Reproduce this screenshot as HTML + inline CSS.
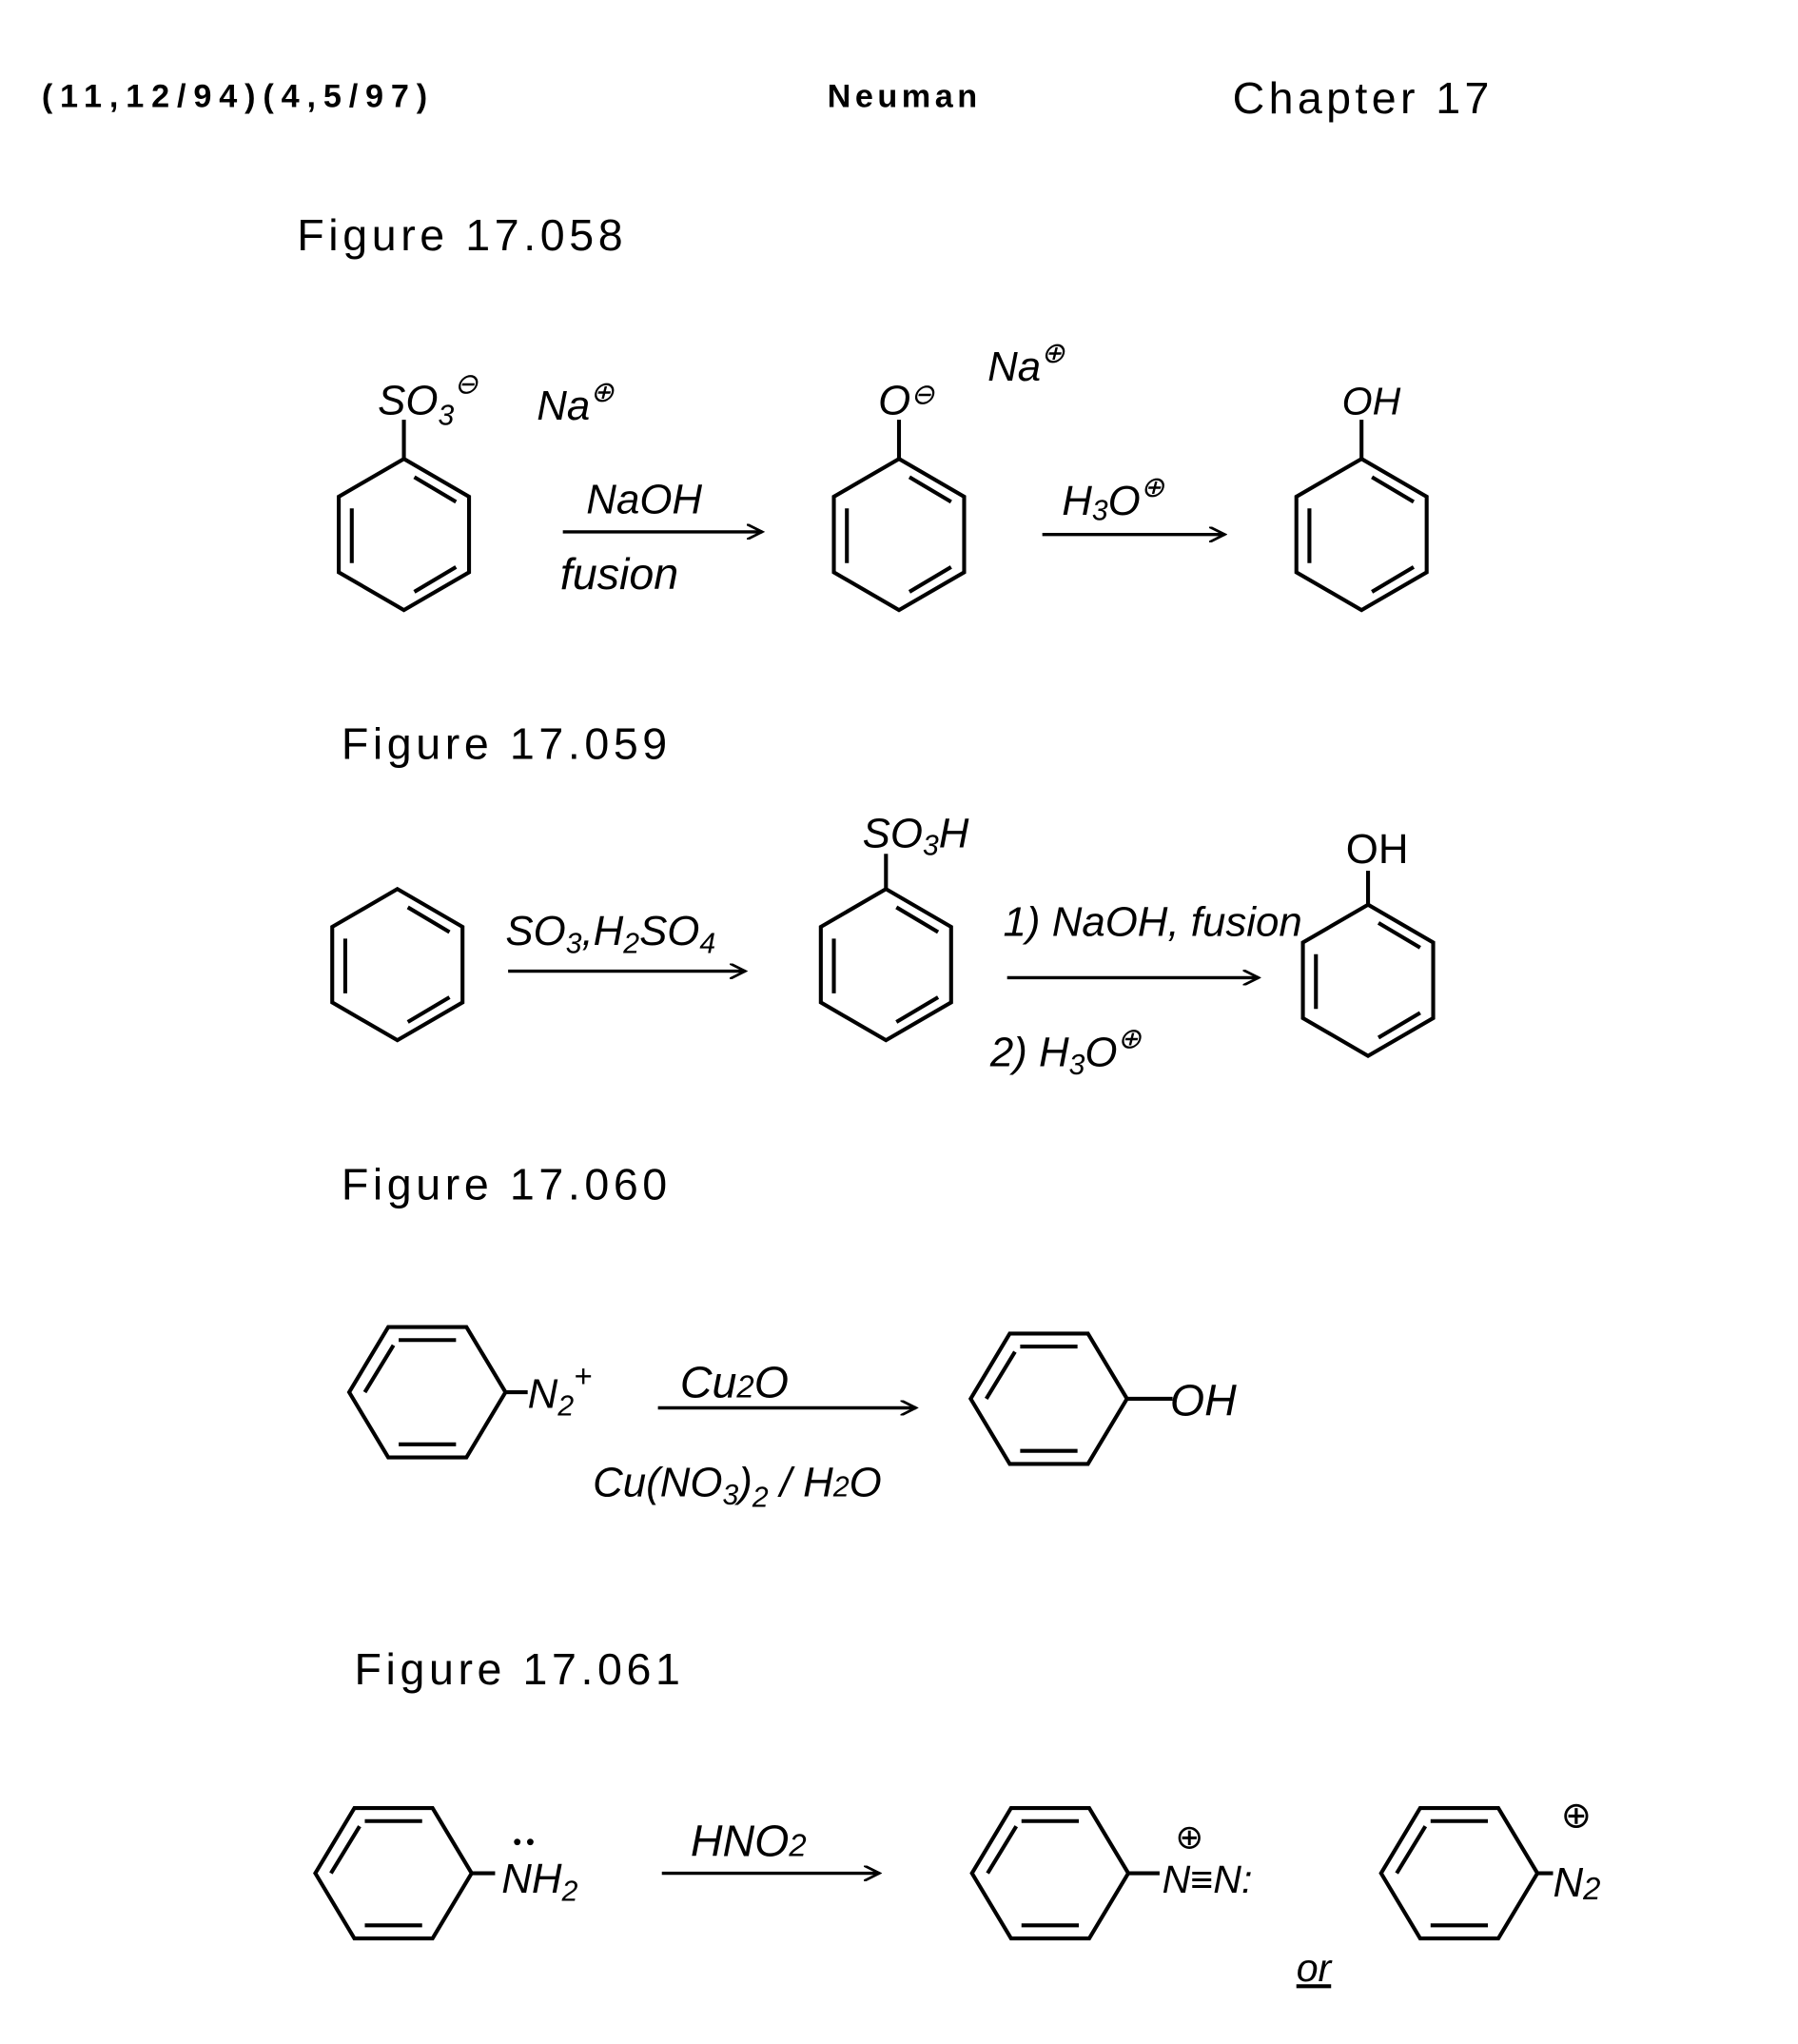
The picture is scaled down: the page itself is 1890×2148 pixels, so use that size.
<!DOCTYPE html>
<html><head><meta charset="utf-8"><style>
html,body{margin:0;padding:0;background:#fff;}
svg{display:block;}
text{font-family:"Liberation Sans",sans-serif;fill:#000;}
.h{font-style:italic;font-family:"Liberation Sans",sans-serif;}
</style></head><body>
<svg width="1890" height="2148" viewBox="0 0 1380 1568" preserveAspectRatio="none" xmlns="http://www.w3.org/2000/svg">
<defs>
<g id="bv" fill="none" stroke="#000" stroke-width="3">
<polygon points="0,-58 50,-29 50,29 0,58 -50,29 -50,-29"/>
<line x1="-40" y1="-20" x2="-40" y2="22"/>
<line x1="8" y1="-44" x2="40" y2="-25"/>
<line x1="8" y1="44" x2="40" y2="25"/>
</g>
<g id="bh" fill="none" stroke="#000" stroke-width="3">
<polygon points="-60,0 -30,-50 30,-50 60,0 30,50 -30,50"/>
<line x1="-22" y1="-40" x2="22" y2="-40"/>
<line x1="-22" y1="40" x2="22" y2="40"/>
<line x1="-48" y1="0" x2="-26" y2="-36"/>
</g>
<marker id="ar" markerWidth="14" markerHeight="12" refX="12" refY="6" orient="auto" markerUnits="userSpaceOnUse">
<path d="M0,0 L12,6 L0,12" fill="none" stroke="#000" stroke-width="2"/>
</marker>
</defs>

<text x="32" y="82" font-size="25" font-weight="bold" textLength="296" lengthAdjust="spacing">(11,12/94)(4,5/97)</text>
<text x="635" y="82" font-size="25" font-weight="bold" textLength="115">Neuman</text>
<text x="946" y="87" font-size="34" textLength="197">Chapter 17</text>

<text x="228" y="192" font-size="34" textLength="250">Figure 17.058</text>
<use href="#bv" x="310" y="410"/>
<line x1="310" y1="352" x2="310" y2="322" stroke="#000" stroke-width="3"/>
<text class="h" x="290" y="318" font-size="32">SO<tspan font-size="22" dy="8">3</tspan><tspan dy="-24" font-size="22">⊖</tspan></text>
<text class="h" x="412" y="322" font-size="32">Na<tspan dy="-14" font-size="22">⊕</tspan></text>
<text class="h" x="450" y="394" font-size="32">NaOH</text>
<line x1="432" y1="408" x2="585" y2="408" stroke="#000" stroke-width="2.5" marker-end="url(#ar)"/>
<text class="h" x="430" y="452" font-size="34">fusion</text>
<use href="#bv" x="690" y="410"/>
<line x1="690" y1="352" x2="690" y2="322" stroke="#000" stroke-width="3"/>
<text class="h" x="674" y="318" font-size="32">O<tspan dy="-8" font-size="22">⊖</tspan></text>
<text class="h" x="758" y="292" font-size="32">Na<tspan dy="-14" font-size="22">⊕</tspan></text>
<text class="h" x="815" y="395" font-size="32">H<tspan font-size="22" dy="4">3</tspan><tspan dy="-4">O</tspan><tspan dy="-14" font-size="22">⊕</tspan></text>
<line x1="800" y1="410" x2="940" y2="410" stroke="#000" stroke-width="2.5" marker-end="url(#ar)"/>
<use href="#bv" x="1045" y="410"/>
<line x1="1045" y1="352" x2="1045" y2="322" stroke="#000" stroke-width="3"/>
<text class="h" x="1030" y="318" font-size="30">OH</text>

<text x="262" y="582" font-size="34" textLength="250">Figure 17.059</text>
<use href="#bv" x="305" y="740"/>
<text class="h" x="388" y="725" font-size="32">SO<tspan font-size="22" dy="6">3</tspan><tspan dy="-6">,H</tspan><tspan font-size="22" dy="6">2</tspan><tspan dy="-6">SO</tspan><tspan font-size="22" dy="6">4</tspan></text>
<line x1="390" y1="745" x2="572" y2="745" stroke="#000" stroke-width="2.5" marker-end="url(#ar)"/>
<use href="#bv" x="680" y="740"/>
<line x1="680" y1="682" x2="680" y2="655" stroke="#000" stroke-width="3"/>
<text class="h" x="662" y="650" font-size="32">SO<tspan font-size="22" dy="6">3</tspan><tspan dy="-6">H</tspan></text>
<text class="h" x="770" y="718" font-size="32">1) NaOH, fusion</text>
<line x1="773" y1="750" x2="966" y2="750" stroke="#000" stroke-width="2.5" marker-end="url(#ar)"/>
<text class="h" x="760" y="818" font-size="32">2) H<tspan font-size="22" dy="6">3</tspan><tspan dy="-6">O</tspan><tspan dy="-14" font-size="22">⊕</tspan></text>
<use href="#bv" x="1050" y="752"/>
<line x1="1050" y1="694" x2="1050" y2="668" stroke="#000" stroke-width="3"/>
<text x="1033" y="662" font-size="32">OH</text>

<text x="262" y="920" font-size="34" textLength="250">Figure 17.060</text>
<use href="#bh" x="328" y="1068"/>
<line x1="388" y1="1068" x2="405" y2="1068" stroke="#000" stroke-width="3"/>
<text class="h" x="405" y="1080" font-size="32">N<tspan font-size="22" dy="6">2</tspan><tspan dy="-22" font-size="24">+</tspan></text>
<text class="h" x="522" y="1072" font-size="34">Cu<tspan font-size="24" dy="0">2</tspan>O</text>
<line x1="505" y1="1080" x2="703" y2="1080" stroke="#000" stroke-width="2.5" marker-end="url(#ar)"/>
<text class="h" x="455" y="1148" font-size="32">Cu(NO<tspan font-size="22" dy="6">3</tspan><tspan dy="-6">)</tspan><tspan font-size="22" dy="8">2</tspan><tspan dy="-8"> / H</tspan><tspan font-size="22">2</tspan>O</text>
<use href="#bh" x="805" y="1073"/>
<line x1="865" y1="1073" x2="900" y2="1073" stroke="#000" stroke-width="3"/>
<text class="h" x="898" y="1086" font-size="34">OH</text>

<text x="272" y="1292" font-size="34" textLength="250">Figure 17.061</text>
<use href="#bh" x="302" y="1437"/>
<line x1="362" y1="1437" x2="380" y2="1437" stroke="#000" stroke-width="3"/>
<text class="h" x="385" y="1452" font-size="32">NH<tspan font-size="22" dy="6">2</tspan></text>
<circle cx="397" cy="1413" r="2.5"/><circle cx="407" cy="1413" r="2.5"/>
<text class="h" x="530" y="1424" font-size="34">HNO<tspan font-size="24">2</tspan></text>
<line x1="508" y1="1437" x2="675" y2="1437" stroke="#000" stroke-width="2.5" marker-end="url(#ar)"/>
<use href="#bh" x="806" y="1437"/>
<line x1="866" y1="1437" x2="890" y2="1437" stroke="#000" stroke-width="3"/>
<text class="h" x="892" y="1452" font-size="30">N≡N:</text>
<text x="902" y="1418" font-size="26">⊕</text>
<text class="h" x="995" y="1520" font-size="30" text-decoration="underline">or</text>
<use href="#bh" x="1120" y="1437"/>
<line x1="1180" y1="1437" x2="1192" y2="1437" stroke="#000" stroke-width="3"/>
<text class="h" x="1192" y="1455" font-size="32">N<tspan font-size="24" dy="2">2</tspan></text>
<text x="1198" y="1402" font-size="28">⊕</text>
</svg>
</body></html>
